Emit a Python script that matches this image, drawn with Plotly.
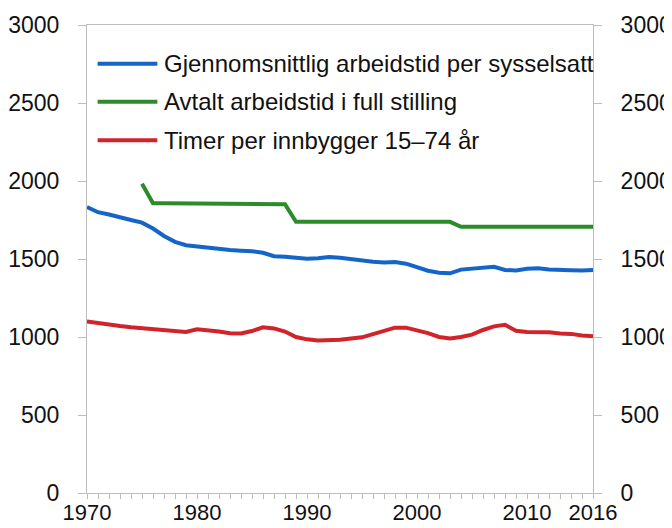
import plotly.graph_objects as go

years = list(range(1970, 2017))

gjennomsnitt = [1833, 1800, 1785, 1765, 1750, 1733, 1695, 1648, 1610, 1588,
                1580, 1568, 1560, 1557, 1553, 1550, 1540, 1518, 1515, 1510,
                1502, 1505, 1513, 1508, 1498, 1489, 1482, 1478, 1480, 1470,
                1450, 1425, 1412, 1408, 1432, 1438, 1442, 1450, 1430, 1427,
                1438, 1440, 1432, 1428, 1428, 1427, 1429]

avtalt_years = list(range(1975, 2017))
avtalt = [1982, 1857, 1857, 1857, 1857, 1857, 1857, 1851, 1851, 1851,
          1851, 1851, 1851, 1851, 1738, 1738, 1738, 1738, 1738, 1738,
          1738, 1738, 1738, 1738, 1738, 1738, 1738, 1738, 1738, 1706,
          1706, 1706, 1706, 1706, 1706, 1706, 1706, 1706, 1706, 1706,
          1706, 1706]

timer = [1100, 1088, 1078, 1070, 1062, 1057, 1053, 1048, 1040, 1032,
         1050, 1045, 1035, 1024, 1022, 1038, 1062, 1055, 1035, 1000,
         985, 978, 978, 982, 990, 998, 1018, 1042, 1060, 1060,
         1045, 1025, 1000, 990, 1000, 1015, 1045, 1068, 1078, 1040,
         1032, 1032, 1030, 1022, 1020, 1010, 1005]

series_names = ["Gjennomsnittlig arbeidstid per sysselsatt",
                "Avtalt arbeidstid i full stilling",
                "Timer per innbygger 15\u201374 år"]
colors = ["#1565c8", "#2e8b2a", "#d0232a"]

x_tickvals = [1970, 1980, 1990, 2000, 2010, 2016]
x_ticktext = ["1970", "1980", "1990", "2000", "2010", "2016"]

FONT = "Liberation Sans, Arial, sans-serif"
GREY = "#bdbdbd"

fig = go.Figure()
fig.add_trace(go.Scatter(x=years, y=gjennomsnitt, mode="lines", name=series_names[0],
                         line=dict(color=colors[0], width=4)))
fig.add_trace(go.Scatter(x=avtalt_years, y=avtalt, mode="lines", name=series_names[1],
                         line=dict(color=colors[1], width=4)))
fig.add_trace(go.Scatter(x=years, y=timer, mode="lines", name=series_names[2],
                         line=dict(color=colors[2], width=4)))
# invisible trace to activate right axis
fig.add_trace(go.Scatter(x=[1970], y=[0], yaxis="y2", mode="markers",
                         marker=dict(opacity=0), hoverinfo="skip", showlegend=False))

# manual legend
leg_y = [0.917, 0.836, 0.754]
for name, col, yy in zip(series_names, colors, leg_y):
    fig.add_shape(type="line", xref="paper", yref="paper",
                  x0=0.021, x1=0.139, y0=yy, y1=yy,
                  line=dict(color=col, width=4))
    fig.add_annotation(xref="paper", yref="paper", x=0.149, y=yy,
                       text=name, showarrow=False, xanchor="left", yanchor="middle",
                       font=dict(size=24, color="#111111", family=FONT))

# page has an 8px body margin, so the figure is sized to fit inside the window
fig.update_layout(
    width=664, height=520,
    margin=dict(l=79, r=79, t=17, b=35),
    plot_bgcolor="white", paper_bgcolor="white",
    showlegend=False,
    font=dict(family=FONT, size=23, color="#111111"),
    xaxis=dict(range=[1970, 2016], tickvals=x_tickvals, ticktext=x_ticktext,
               ticks="outside", ticklen=5, tickcolor=GREY, showline=True,
               linecolor=GREY, linewidth=1, mirror=True, showgrid=False,
               zeroline=False, tickfont=dict(size=22), automargin=False,
               ticklabelstandoff=-5,
               minor=dict(dtick=1, tick0=1970, ticks="outside", ticklen=5,
                          tickcolor=GREY, showgrid=False)),
    yaxis=dict(range=[0, 3000], dtick=500, ticks="outside", ticklen=8,
               tickcolor=GREY, showline=True, linecolor=GREY, showgrid=False,
               zeroline=False, tickfont=dict(size=23), ticklabelstandoff=14,
               automargin=False),
    yaxis2=dict(range=[0, 3000], dtick=500, overlaying="y", side="right",
                ticks="outside", ticklen=8, tickcolor=GREY, showline=True,
                linecolor=GREY, showgrid=False, zeroline=False,
                tickfont=dict(size=23), ticklabelstandoff=14, automargin=False),
)

fig.write_html("out.html")
